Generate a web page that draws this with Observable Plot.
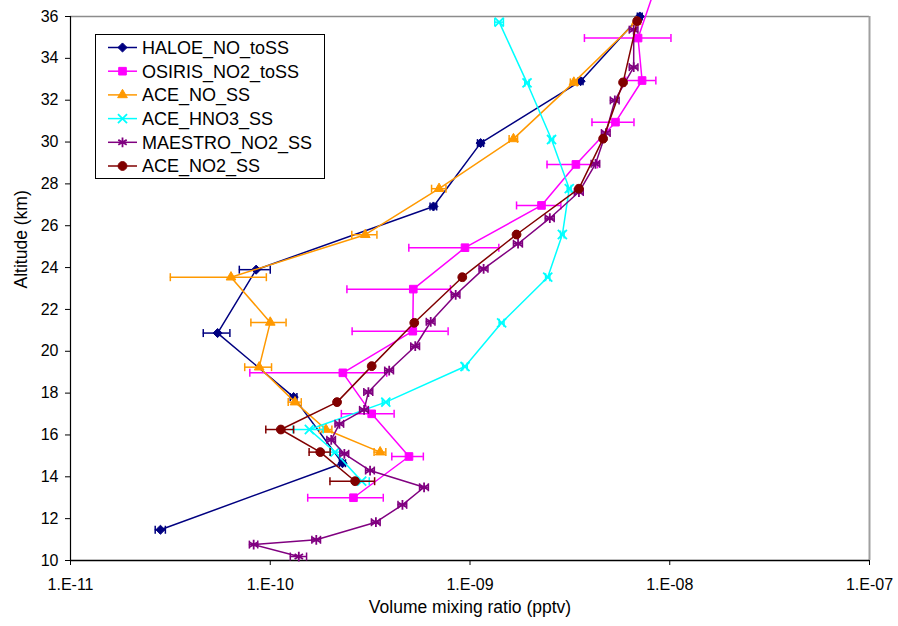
<!DOCTYPE html>
<html>
<head>
<meta charset="utf-8">
<script src="https://cdn.jsdelivr.net/npm/d3@7"></script>
<script src="https://cdn.jsdelivr.net/npm/@observablehq/plot@0.6"></script>
<style>
  body { margin: 0; background: white; }
  #wrap { position: relative; width: 898px; height: 626px; background: white; font-family: "Liberation Sans", Arial, sans-serif; }
  #legend { position: absolute; left: 95px; top: 34px; }
</style>
</head>
<body>
<div id="wrap"><div id="chart"></div><div id="legend"></div></div>
<script>
// ---- data ----
const names = ["HALOE_NO_toSS","OSIRIS_NO2_toSS","ACE_NO_SS","ACE_HNO3_SS","MAESTRO_NO2_SS","ACE_NO2_SS"];

const haloeAlt = [36, 32.91, 29.95, 26.92, 23.9, 20.87, 17.81, 14.65, 11.47];
const haloeVal = [7.08e-9, 3.58e-9, 1.13e-9, 6.56e-10, 8.5e-11, 5.45e-11, 1.31e-10, 2.3e-10, 2.82e-11];
const haloeErr = [2e-10, 1e-10, 4e-11, 2.5e-11, 1.5e-11, 8.3e-12, 5e-12, 8e-12, 1.65e-12];

const osirisAlt = [37, 34.97, 32.94, 30.95, 28.93, 26.97, 24.95, 22.97, 20.96, 18.97, 17.01, 14.97, 13.0];
const osirisVal = [8.2e-9, 6.94e-9, 7.27e-9, 5.35e-9, 3.39e-9, 2.28e-9, 9.44e-10, 5.2e-10, 5.17e-10, 2.31e-10, 3.22e-10, 4.95e-10, 2.61e-10];
const osirisErr = [3e-9, 3.2e-9, 1.25e-9, 1.27e-9, 9.6e-10, 5.7e-10, 4.5e-10, 2.78e-10, 2.6e-10, 1.52e-10, 9.5e-11, 8.9e-11, 1.07e-10];

const aceNoAlt = [35.75, 32.85, 30.15, 27.77, 25.57, 23.54, 21.38, 19.24, 17.57, 16.26, 15.18];
const aceNoVal = [6.8e-9, 3.31e-9, 1.65e-9, 7.0e-10, 2.99e-10, 6.36e-11, 1.0e-10, 8.8e-11, 1.33e-10, 1.9e-10, 3.55e-10];
const aceNoErr = [1.5e-10, 1.3e-10, 8e-11, 5.8e-11, 4.3e-11, 3.2e-11, 2e-11, 1.35e-11, 1e-11, 1.35e-11, 2.4e-11];

const aceHno3Alt = [35.73, 32.83, 30.12, 27.77, 25.58, 23.54, 21.36, 19.27, 17.57, 16.26, 15.18, 13.79];
const aceHno3Val = [1.4e-9, 1.93e-9, 2.56e-9, 3.14e-9, 2.9e-9, 2.45e-9, 1.44e-9, 9.44e-10, 3.79e-10, 1.57e-10, 2.11e-10, 2.87e-10];
const aceHno3Err = [7e-11, 5e-11, 6e-11, 7e-11, 6e-11, 6e-11, 4e-11, 2.5e-11, 1.5e-11, 2.7e-11, 1.2e-11, 2.6e-11];

const maestroAlt = [35.37, 33.58, 31.99, 30.43, 28.96, 27.61, 26.36, 25.14, 23.94, 22.7, 21.41, 20.24, 19.08, 18.05, 17.2, 16.53, 15.77, 15.1, 14.3, 13.5, 12.66, 11.83, 10.99, 10.76, 10.19];
const maestroVal = [6.6e-9, 6.6e-9, 5.31e-9, 4.79e-9, 4.25e-9, 3.51e-9, 2.51e-9, 1.74e-9, 1.17e-9, 8.48e-10, 6.36e-10, 5.32e-10, 3.94e-10, 3.1e-10, 2.95e-10, 2.22e-10, 2.02e-10, 2.35e-10, 3.16e-10, 5.89e-10, 4.59e-10, 3.38e-10, 1.7e-10, 8.26e-11, 1.39e-10];
const maestroErr = [3.3e-10, 3.3e-10, 2.7e-10, 2.4e-10, 2.1e-10, 1.8e-10, 1.3e-10, 9e-11, 6e-11, 4.2e-11, 3.2e-11, 2.7e-11, 2e-11, 1.6e-11, 1.5e-11, 1.1e-11, 1e-11, 1.2e-11, 1.6e-11, 3e-11, 2.3e-11, 1.7e-11, 8.5e-12, 4e-12, 1.3e-11];

const aceNo2Alt = [35.78, 32.85, 30.16, 27.77, 25.58, 23.54, 21.36, 19.29, 17.57, 16.26, 15.18, 13.79];
const aceNo2Val = [6.87e-9, 5.84e-9, 4.64e-9, 3.51e-9, 1.71e-9, 9.15e-10, 5.26e-10, 3.22e-10, 2.16e-10, 1.13e-10, 1.78e-10, 2.66e-10];
const aceNo2Err = [1.4e-10, 1.2e-10, 9e-11, 7e-11, 3.4e-11, 1.8e-11, 1e-11, 6e-12, 4e-12, 1.8e-11, 2.15e-11, 6.7e-11];

const xTicks = [1e-11, 1e-10, 1e-9, 1e-8, 1e-7];
const xTickLabels = ["1.E-11", "1.E-10", "1.E-09", "1.E-08", "1.E-07"];
const yTicks = [10, 12, 14, 16, 18, 20, 22, 24, 26, 28, 30, 32, 34, 36];

// ---- styles ----
const colors = ["#000080", "#FF00FF", "#FF9900", "#00FFFF", "#800080", "#800000"];
const symbolNames = ["diamond2", "square", "triangle", "times", "asterisk", "circle"];
const symbolR = [4.1, 4.3, 3.6, 4.2, 4.6, 4.4];
const filled = [true, true, true, false, false, true];

const seriesData = [
  [haloeAlt, haloeVal, haloeErr],
  [osirisAlt, osirisVal, osirisErr],
  [aceNoAlt, aceNoVal, aceNoErr],
  [aceHno3Alt, aceHno3Val, aceHno3Err],
  [maestroAlt, maestroVal, maestroErr],
  [aceNo2Alt, aceNo2Val, aceNo2Err]
];

const capSymbol = {
  draw(context, size) {
    const h = Math.sqrt(size / Math.PI);
    context.moveTo(0, -h);
    context.lineTo(0, h);
  }
};

const seriesMarks = seriesData.flatMap(([alt, val, err], i) => {
  const rows = alt.map((a, j) => ({alt: a, val: val[j], lo: val[j] - err[j], hi: val[j] + err[j]}));
  const c = colors[i];
  return [
    Plot.line(rows, {x: "val", y: "alt", stroke: c, strokeWidth: 1.5}),
    Plot.ruleY(rows, {y: "alt", x1: "lo", x2: "hi", stroke: c, strokeWidth: 1.5}),
    Plot.dot(rows, {x: "lo", y: "alt", symbol: capSymbol, r: 4, stroke: c, strokeWidth: 1.5}),
    Plot.dot(rows, {x: "hi", y: "alt", symbol: capSymbol, r: 4, stroke: c, strokeWidth: 1.5}),
    Plot.dot(rows, {x: "val", y: "alt", symbol: symbolNames[i], r: symbolR[i],
      fill: filled[i] ? c : "none", stroke: c, strokeWidth: filled[i] ? 1 : 1.8})
  ];
});

const chart = Plot.plot({
  width: 898,
  height: 626,
  marginLeft: 70,
  marginRight: 29,
  marginTop: 16,
  marginBottom: 66,
  style: {fontFamily: "'Liberation Sans', Arial, sans-serif", fontSize: "16px", background: "white", color: "black"},
  x: {type: "log", domain: [1e-11, 1e-7]},
  y: {domain: [10, 36]},
  marks: [
    Plot.ruleY([36], {stroke: "#8c8c8c", strokeWidth: 1.5}),
    Plot.ruleX([1e-7], {stroke: "#a0a0a0", strokeWidth: 2}),
    Plot.axisX({ticks: xTicks, tickFormat: d => xTickLabels[xTicks.indexOf(d)], tickSize: 5, tickPadding: 13, label: null, fontSize: 16}),
    Plot.axisY({ticks: yTicks, tickSize: 5, tickPadding: 7, label: null, fontSize: 16}),
    Plot.ruleX([1e-11], {stroke: "black", strokeWidth: 1.2}),
    Plot.ruleY([10], {stroke: "black", strokeWidth: 1.5}),
    ...seriesMarks,
    Plot.text(["Volume mixing ratio (pptv)"], {frameAnchor: "bottom", dy: 52, fontSize: 17.5, fill: "black"}),
    Plot.text(["Altitude (km)"], {frameAnchor: "left", dx: -49, rotate: -90, fontSize: 17.5, fill: "black"})
  ]
});
document.getElementById("chart").appendChild(chart);

// ---- legend ----
const lw = 229, lh = 144, rowH = 23.7, row0 = 13.5;
const leg = d3.select("#legend").append("svg").attr("width", lw + 1).attr("height", lh + 1);
leg.append("rect").attr("x", 0.5).attr("y", 0.5).attr("width", lw).attr("height", lh)
  .attr("fill", "white").attr("stroke", "black").attr("stroke-width", 1);
const symMap = {diamond2: d3.symbolDiamond2, square: d3.symbolSquare, triangle: d3.symbolTriangle,
  times: d3.symbolTimes, asterisk: d3.symbolAsterisk, circle: d3.symbolCircle};
names.forEach((n, i) => {
  const y = row0 + i * rowH;
  const g = leg.append("g").attr("transform", `translate(0,${y})`);
  g.append("line").attr("x1", 13).attr("x2", 42).attr("y1", 0).attr("y2", 0)
    .attr("stroke", colors[i]).attr("stroke-width", 1.5);
  g.append("path").attr("transform", "translate(27.5,0)")
    .attr("d", d3.symbol(symMap[symbolNames[i]], symbolR[i] * symbolR[i] * Math.PI)())
    .attr("fill", filled[i] ? colors[i] : "none").attr("stroke", colors[i])
    .attr("stroke-width", filled[i] ? 1 : 1.8);
  g.append("text").attr("x", 47).attr("y", 0).attr("dy", "0.36em")
    .attr("font-family", "'Liberation Sans', Arial, sans-serif").attr("font-size", 18)
    .attr("fill", "black").text(n);
});
</script>
</body>
</html>
